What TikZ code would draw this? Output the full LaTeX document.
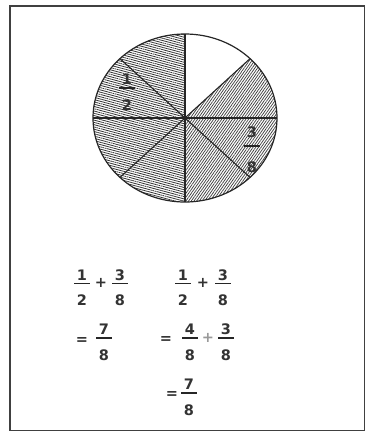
\documentclass[tikz,border=0pt]{standalone}
\usepackage{fontspec}
\setmainfont{DejaVu Sans}
\usetikzlibrary{patterns.meta}
\newcommand\myfr[5]{%
  \node[dig] (#1n) at (#2,#3-8.5) {#4};
  \node[dig] (#1d) at (#2,#3+17) {#5};
  \draw[fbar] (#2-8,#3) -- (#2+8,#3);
}
\begin{document}
\begin{tikzpicture}[x=1pt,y=-1pt,
  frame/.style={draw=black!75,line width=1.6pt},
  rim/.style={draw=black!85,line width=1.2pt},
  radius line/.style={draw=black!85,line width=1.1pt},
  dig/.style={inner sep=0pt,font=\bfseries\fontsize{14.5}{15}\selectfont,text=black!80},
  sym/.style={inner sep=0pt,font=\bfseries\fontsize{14.5}{15}\selectfont,text=black!80},
  fbar/.style={line width=1.4pt,black!85},
  halfhatch/.style={pattern={Lines[angle=165,distance=2.2pt,line width=0.8pt]},pattern color=black!80},
  eighthatch/.style={pattern={Lines[angle=55,distance=2.2pt,line width=0.75pt]},pattern color=black!75},
]
\useasboundingbox (0,0) rectangle (366,432);
\draw[frame] (10,6) rectangle (364.5,430.5);
% pie
\fill[halfhatch] (185,118) -- (185,34) arc[start angle=90,end angle=270,x radius=92pt,y radius=84pt] -- cycle;
\fill[eighthatch] (185,118) -- (185,202) arc[start angle=-90,end angle=45,x radius=92pt,y radius=84pt] -- cycle;
\draw[radius line] (185,34) -- (185,202);
\draw[radius line] (93,118) -- (277,118);
\draw[radius line] (119.95,58.6) -- (250.05,177.4);
\draw[radius line] (250.05,58.6) -- (119.95,177.4);
\draw[rim] (185,118) ellipse[x radius=92pt,y radius=84pt];
% labels in pie
\myfr{ph}{127}{88}{1}{2}
\node[dig] (pen) at (252,132) {3};
\node[dig] (ped) at (252,167) {8};
\draw[fbar] (244,146) -- (260,146);
% left column
\myfr{a}{82}{283.5}{1}{2}
\node[sym] (ap) at (101,283) {+};
\myfr{b}{120}{283.5}{3}{8}
\node[sym] (aeq) at (82,341) {=};
\myfr{c}{104}{338}{7}{8}
% right column
\myfr{d}{183}{283.5}{1}{2}
\node[sym] (dp) at (203,283) {+};
\myfr{e}{223}{283.5}{3}{8}
\node[sym] (deq) at (166,340) {=};
\myfr{f}{190}{338}{4}{8}
\node[sym,text=black!40] (fp) at (208,338) {+};
\myfr{g}{226}{338}{3}{8}
\node[sym] (geq) at (172,395) {=};
\myfr{h}{189}{393}{7}{8}
\end{tikzpicture}
\end{document}
